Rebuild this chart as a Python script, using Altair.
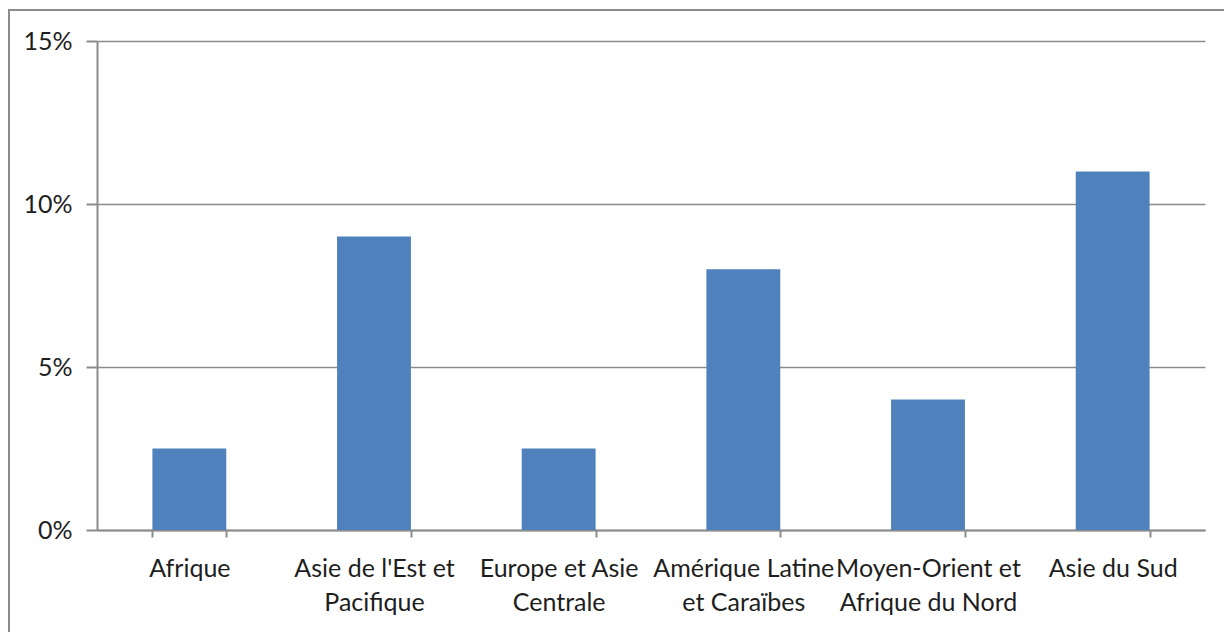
import altair as alt
import pandas as pd

# Regions (line breaks marked with "|") and their shares
regions = [
    "Afrique",
    "Asie de l'Est et|Pacifique",
    "Europe et Asie|Centrale",
    "Amérique Latine|et Caraïbes",
    "Moyen-Orient et|Afrique du Nord",
    "Asie du Sud",
]
shares = [0.025, 0.09, 0.025, 0.08, 0.04, 0.11]
y_ticks = [0.0, 0.05, 0.10, 0.15]

df = pd.DataFrame({"region": regions, "share": shares})

FONT = "Lato"
GRAY = "#8c8c8c"
TEXT = "#1e1e1e"

bars = alt.Chart(df).mark_bar(color="#4F81BD").encode(
    x=alt.X(
        "region:N",
        sort=regions,
        title=None,
        scale=alt.Scale(paddingInner=0.6, paddingOuter=0.3),
        axis=alt.Axis(
            labelAngle=0,
            labelExpr="split(datum.label, '|')",
            labelFont=FONT,
            labelFontSize=25,
            labelColor=TEXT,
            labelLineHeight=34,
            labelPadding=19,
            labelLimit=300,
            tickBand="extent",
            tickSize=7,
            tickColor=GRAY,
            tickWidth=2,
            domainColor=GRAY,
            domainWidth=2,
            grid=False,
        ),
    ),
    y=alt.Y(
        "share:Q",
        title=None,
        scale=alt.Scale(domain=[0, 0.15], nice=False),
        axis=alt.Axis(
            values=y_ticks,
            format=".0%",
            labelFont=FONT,
            labelFontSize=25,
            labelColor=TEXT,
            labelPadding=14,
            tickSize=11,
            tickColor=GRAY,
            tickWidth=2,
            domainColor=GRAY,
            domainWidth=2,
            grid=True,
            gridColor=GRAY,
            gridWidth=1.5,
        ),
    ),
)

# Outer chart frame
frame = alt.Chart(alt.Data(values=[{}])).mark_rect(
    fill=None, stroke=GRAY, strokeWidth=2
).encode(
    x=alt.value(-88), x2=alt.value(1140),
    y=alt.value(-31), y2=alt.value(600),
)

chart = alt.layer(frame, bars).properties(
    width=1108,
    height=489,
    padding={"left": 97, "top": 41, "right": 19, "bottom": 102},
    autosize=alt.AutoSizeParams(type="none"),
    background="white",
).configure_view(stroke=None)

chart.save("out.html", embed_options={"renderer": "svg", "actions": False})
